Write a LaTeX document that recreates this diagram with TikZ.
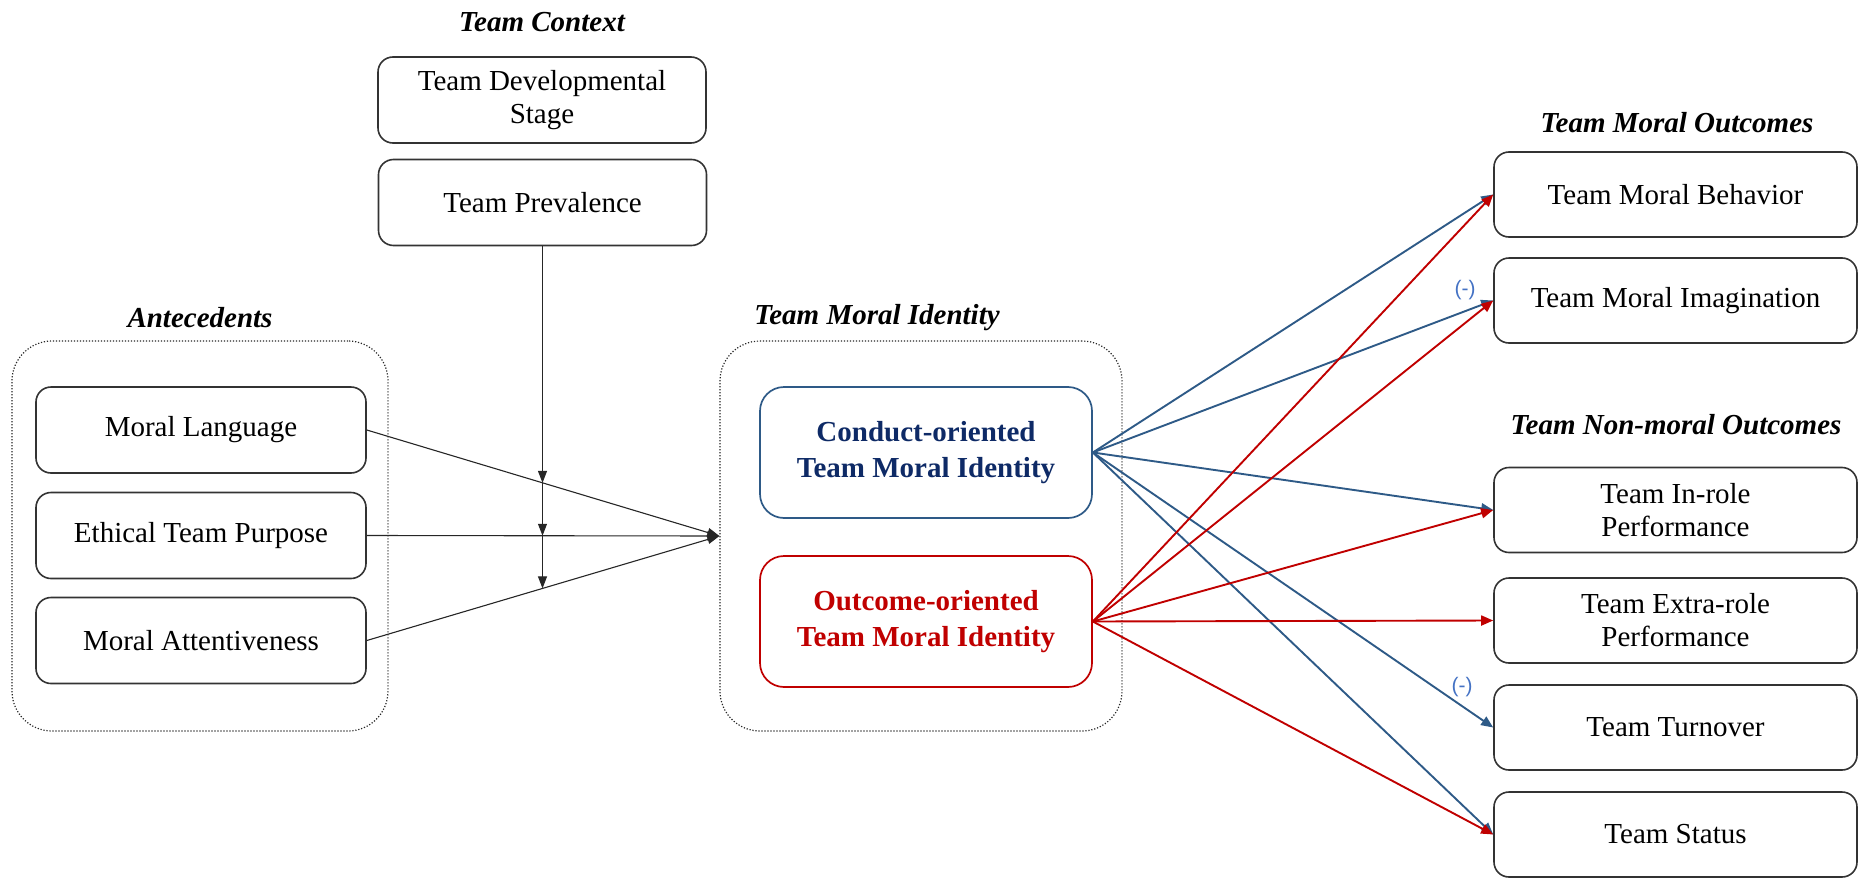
\documentclass[tikz,border=0pt]{standalone}
\usepackage{fontspec}
\setmainfont{Liberation Serif}
\newfontfamily\labfont{Liberation Sans}
\usetikzlibrary{arrows.meta}
\definecolor{cblue}{HTML}{2E5A87}
\definecolor{cnavy}{HTML}{0E2A66}
\definecolor{cred}{HTML}{C00000}
\definecolor{clab}{HTML}{4472C4}
\definecolor{cborder}{HTML}{333333}
\begin{document}
\begin{tikzpicture}[x=0.5pt,y=-0.5pt,
  box/.style={draw=cborder, line width=0.8pt, rounded corners=7.5pt, align=center,
    font=\fontsize{14.5}{16.5}\selectfont, inner sep=0pt},
  topbox/.style={box, minimum width=164pt, minimum height=43pt},
  antbox/.style={box, minimum width=165pt, minimum height=43pt},
  outbox/.style={box, minimum width=181.5pt, minimum height=42.5pt},
  idbox/.style={box, line width=0.85pt, rounded corners=12pt, minimum width=166pt, minimum height=65.5pt,
    font=\fontsize{14.5}{18}\selectfont\bfseries},
  group/.style={draw=black!85, line width=0.6pt, dash pattern=on 0.6pt off 0.9pt, rounded corners=20pt, inner sep=0pt},
  title/.style={font=\fontsize{14.5}{16.5}\selectfont\bfseries\itshape, inner sep=0pt},
  blk/.style={draw=black!85, line width=0.55pt, -{Triangle[length=6pt,width=4.5pt]}},
  bline/.style={draw=cblue, line width=0.95pt, -{Triangle[length=6pt,width=5pt]}},
  rline/.style={draw=cred, line width=0.95pt, -{Triangle[length=6pt,width=5pt]}},
  neg/.style={font=\labfont\fontsize{10.5}{12}\selectfont, text=clab, inner sep=0pt}
]
\useasboundingbox (0,0) rectangle (1864,878);

% titles
\node[title] (tctx) at (542,22) {Team Context};
\node[title] (tant) at (200,318) {Antecedents};
\node[title] (ttmi) at (877,318) {Team Moral Identity};
\node[title] (tmo) at (1677,123) {Team Moral Outcomes};
\node[title] (tnmo) at (1676,425) {Team Non-moral Outcomes};

% group frames
\node[group, minimum width=188pt, minimum height=195pt] (antgrp) at (200,536) {};
\node[group, minimum width=201pt, minimum height=195pt] (tmibox) at (921,536) {};

% context
\node[topbox] (tds) at (542,100) {Team Developmental\\Stage};
\node[topbox] (tp) at (542.5,202.5) {Team Prevalence};

% antecedents
\node[antbox] (ml) at (201,430) {Moral Language};
\node[antbox] (etp) at (201,535.5) {Ethical Team Purpose};
\node[antbox] (ma) at (201,640.5) {Moral Attentiveness};

% identity
\node[idbox, draw=cblue, text=cnavy] (cond) at (926,452.5) {Conduct-oriented\\Team Moral Identity};
\node[idbox, draw=cred, text=cred] (outc) at (926,621.5) {Outcome-oriented\\Team Moral Identity};

% outcomes
\node[outbox] (tmb) at (1675.5,194.5) {Team Moral Behavior};
\node[outbox] (tmim) at (1675.5,300.5) {Team Moral Imagination};
\node[outbox] (inr) at (1675.5,510) {Team In-role\\Performance};
\node[outbox] (exr) at (1675.5,620.5) {Team Extra-role\\Performance};
\node[outbox] (tto) at (1675.5,727.5) {Team Turnover};
\node[outbox] (tst) at (1675.5,834.5) {Team Status};

% antecedent arrows
\draw[blk] (ml.east) -- (tmibox.west);
\draw[blk] (etp.east) -- (tmibox.west);
\draw[blk] (ma.east) -- (tmibox.west);

% moderator
\coordinate (m1) at (542.5,482.85);
\coordinate (m2) at (542.5,535.75);
\coordinate (m3) at (542.5,588.4);
\draw[blk] (tp.south) -- (m1);
\draw[blk] (m1) -- (m2);
\draw[blk] (m2) -- (m3);

% conduct-oriented paths
\draw[bline] (cond.east) -- (tmb.west);
\draw[bline] (cond.east) -- (tmim.west);
\draw[bline] (cond.east) -- (inr.west);
\draw[bline] (cond.east) -- (tto.west);
\draw[bline] (cond.east) -- (tst.west);

% outcome-oriented paths
\draw[rline] (outc.east) -- (tmb.west);
\draw[rline] (outc.east) -- (tmim.west);
\draw[rline] (outc.east) -- (inr.west);
\draw[rline] (outc.east) -- (exr.west);
\draw[rline] (outc.east) -- (tst.west);

% negative signs
\node[neg] (neg1) at (1465,290) {(-)};
\node[neg] (neg2) at (1462,687) {(-)};
\end{tikzpicture}
\end{document}
